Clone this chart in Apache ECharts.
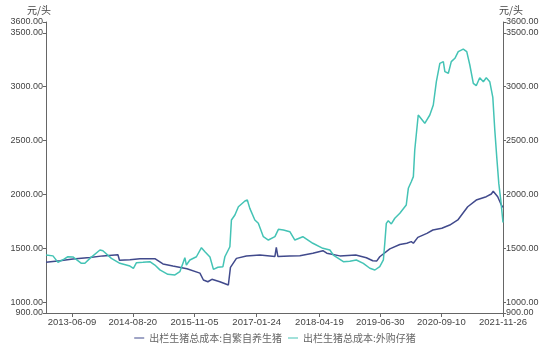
<!DOCTYPE html>
<html>
<head>
<meta charset="utf-8">
<title>出栏生猪总成本</title>
<script src="https://cdn.jsdelivr.net/npm/echarts@6/dist/echarts.min.js"></script>
<style>
  html, body { margin: 0; padding: 0; background: #fff; }
  #main { width: 550px; height: 353px; }
</style>
</head>
<body>
<div id="main"></div>
<script>
// 出栏生猪总成本 (元/头)
var seriesNames = ['出栏生猪总成本:自繁自养生猪', '出栏生猪总成本:外购仔猪'];

var ownDates = ['2012-12-05', '2013-03-15', '2013-06-16', '2013-10-16', '2014-01-17', '2014-05-05', '2014-05-16',
  '2014-07-30', '2014-10-10', '2015-01-25', '2015-03-24', '2015-06-03', '2015-09-12', '2015-12-14', '2015-12-28',
  '2016-01-08', '2016-02-09', '2016-03-09', '2016-05-05', '2016-07-05', '2016-07-20', '2016-09-01', '2016-11-11',
  '2017-02-16', '2017-06-04', '2017-06-14', '2017-06-25', '2017-09-19', '2017-11-30', '2018-03-03', '2018-05-14',
  '2018-06-11', '2018-09-13', '2019-01-05', '2019-01-13', '2019-03-22', '2019-05-07', '2019-06-05', '2019-06-26',
  '2019-09-06', '2019-11-17', '2020-01-06', '2020-02-07', '2020-02-22', '2020-03-25', '2020-05-29', '2020-07-11',
  '2020-09-13', '2020-11-09', '2021-01-06', '2021-02-11', '2021-03-18', '2021-05-18', '2021-07-29', '2021-09-03',
  '2021-09-17', '2021-10-19', '2021-11-14', '2021-11-26'];
var ownValues = [1370, 1385, 1401, 1415, 1430, 1440, 1389,
  1395, 1404, 1404, 1355, 1336, 1310, 1270, 1268,
  1206, 1190, 1213, 1190, 1160, 1324, 1407, 1429,
  1438, 1425, 1510, 1425, 1429, 1432, 1454, 1478,
  1455, 1430, 1438, 1445, 1413, 1385, 1383, 1422,
  1495, 1535, 1547, 1562, 1547, 1602, 1639, 1670,
  1686, 1716, 1763, 1825, 1886, 1948, 1979, 2004,
  2030, 1979, 1902, 1880];

var boughtDates = ['2012-12-05', '2013-01-24', '2013-03-01', '2013-04-13', '2013-05-11', '2013-06-16', '2013-08-16',
  '2013-09-10', '2013-10-16', '2013-12-27', '2014-01-17', '2014-03-19', '2014-05-19', '2014-07-30', '2014-08-24',
  '2014-09-15', '2014-10-31', '2014-12-20', '2015-01-25', '2015-03-02', '2015-04-28', '2015-06-18', '2015-07-23',
  '2015-08-18', '2015-08-28', '2015-09-08', '2015-10-03', '2015-11-19', '2015-12-25', '2016-01-19', '2016-02-24',
  '2016-03-20', '2016-04-21', '2016-05-27', '2016-06-10', '2016-07-16', '2016-07-27', '2016-08-21', '2016-09-15',
  '2016-11-01', '2016-11-18', '2016-12-06', '2017-01-11', '2017-02-05', '2017-03-13', '2017-04-18', '2017-06-04',
  '2017-06-29', '2017-08-04', '2017-09-19', '2017-10-25', '2017-12-21', '2018-03-03', '2018-05-14', '2018-07-03',
  '2018-07-28', '2018-10-08', '2018-11-23', '2019-01-09', '2019-02-28', '2019-04-16', '2019-05-22', '2019-06-26',
  '2019-07-22', '2019-08-01', '2019-08-12', '2019-08-26', '2019-09-17', '2019-10-12', '2019-11-17', '2020-01-02',
  '2020-01-17', '2020-02-07', '2020-02-22', '2020-03-03', '2020-03-28', '2020-04-08', '2020-05-14', '2020-06-19',
  '2020-07-14', '2020-08-05', '2020-08-30', '2020-09-24', '2020-10-05', '2020-10-30', '2020-11-20', '2020-12-16',
  '2021-01-09', '2021-02-14', '2021-03-11', '2021-04-02', '2021-04-27', '2021-05-18', '2021-06-12', '2021-07-08',
  '2021-07-29', '2021-08-23', '2021-09-14', '2021-09-28', '2021-10-12', '2021-10-27', '2021-11-10', '2021-11-26'];
var boughtValues = [1438, 1430, 1370, 1400, 1422, 1420, 1361,
  1362, 1407, 1485, 1478, 1407, 1361, 1336, 1315,
  1367, 1370, 1376, 1345, 1300, 1259, 1253, 1283,
  1376, 1413, 1345, 1392, 1422, 1506, 1469, 1420,
  1305, 1324, 1330, 1422, 1515, 1763, 1809, 1886,
  1939, 1948, 1871, 1763, 1732, 1608, 1577, 1608,
  1676, 1670, 1654, 1577, 1608, 1547, 1500, 1485,
  1438, 1376, 1380, 1392, 1361, 1315, 1299, 1330,
  1392, 1547, 1732, 1756, 1726, 1779, 1825, 1902,
  2057, 2118, 2165, 2412, 2737, 2743, 2660, 2737,
  2830, 3046, 3216, 3232, 3139, 3124, 3232, 3263,
  3325, 3349, 3325, 3201, 3031, 3009, 3083, 3046,
  3083, 3046, 2900, 2600, 2350, 2100, 1948, 1740];

var xTickLabels = ['2013-06-09', '2014-08-20', '2015-11-05', '2017-01-24', '2018-04-19', '2019-06-30', '2020-09-10', '2021-11-26'];
var xStart = '2012-12-05';
var xEnd = '2021-11-26';
var yTickValues = [900, 1000, 1500, 2000, 2500, 3000, 3500, 3600];

// 'yyyy-MM-dd' -> UTC ms, so the x axis can be a plain value axis
function toMs(s) {
  var p = s.split('-');
  return Date.UTC(+p[0], +p[1] - 1, +p[2]);
}
function pad(n) { return n < 10 ? '0' + n : '' + n; }
function toDateStr(ms) {
  var d = new Date(Math.round(ms));
  return d.getUTCFullYear() + '-' + pad(d.getUTCMonth() + 1) + '-' + pad(d.getUTCDate());
}
function pairs(dates, values) {
  return dates.map(function (d, i) { return [toMs(d), values[i]]; });
}

var xTickMs = xTickLabels.map(toMs);

var myChart = echarts.init(document.getElementById('main'));

function yAxis(pos, namePadding) {
  return {
    type: 'value',
    position: pos,
    name: '元/头',
    nameLocation: 'end',
    nameGap: 7,
    nameTextStyle: { color: '#444', fontSize: 10, fontFamily: 'Noto Sans CJK SC', align: 'center', padding: namePadding },
    min: 900,
    max: 3600,
    splitLine: { show: false },
    axisLine: { show: true, lineStyle: { color: '#666' } },
    axisTick: { show: true, length: 3, customValues: yTickValues, lineStyle: { color: '#666' } },
    axisLabel: {
      customValues: yTickValues,
      color: '#444',
      fontSize: 9,
      fontFamily: 'Liberation Sans',
      margin: 3,
      formatter: function (v) { return v.toFixed(2); }
    }
  };
}

myChart.setOption({
  animation: false,
  grid: { left: 46, right: 47, top: 22, bottom: 40 },
  legend: {
    bottom: 5,
    left: 'center',
    itemWidth: 10,
    itemHeight: 1,
    itemGap: 6,
    icon: 'rect',
    textStyle: { color: '#666', fontSize: 10, fontFamily: 'Noto Sans CJK SC' },
    data: seriesNames
  },
  xAxis: {
    type: 'value',
    min: toMs(xStart),
    max: toMs(xEnd),
    splitLine: { show: false },
    axisLine: { lineStyle: { color: '#666' } },
    axisTick: { show: true, length: 4, customValues: xTickMs, lineStyle: { color: '#666' } },
    axisLabel: {
      customValues: xTickMs,
      color: '#444',
      fontSize: 9.5,
      fontFamily: 'Liberation Sans',
      margin: 4,
      formatter: function (v) { return toDateStr(v); }
    }
  },
  yAxis: [yAxis('left', [0, 14, 0, 0]), yAxis('right', [0, 0, 0, 16])],
  series: [{
    name: seriesNames[0],
    type: 'line',
    showSymbol: false,
    itemStyle: { color: '#414a8c' },
    lineStyle: { width: 1.5, color: '#414a8c' },
    data: pairs(ownDates, ownValues)
  }, {
    name: seriesNames[1],
    type: 'line',
    showSymbol: false,
    itemStyle: { color: '#44c3b5' },
    lineStyle: { width: 1.5, color: '#44c3b5' },
    data: pairs(boughtDates, boughtValues)
  }]
});

window.addEventListener('resize', function () {
  myChart.resize();
});
</script>
</body>
</html>
